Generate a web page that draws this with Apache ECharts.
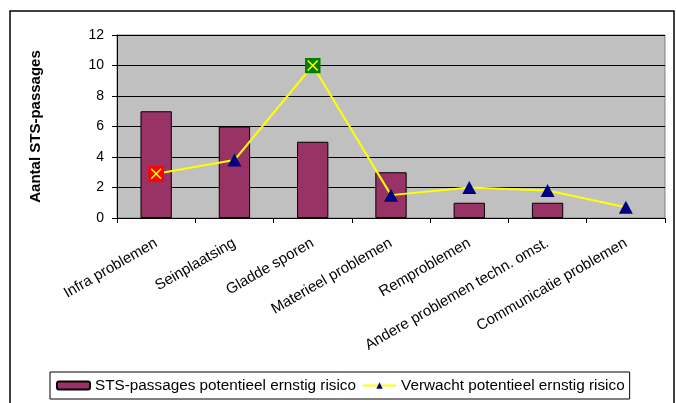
<!DOCTYPE html>
<html>
<head>
<meta charset="utf-8">
<script src="https://cdn.jsdelivr.net/npm/echarts@6/dist/echarts.min.js"></script>
<style>
html, body { margin: 0; padding: 0; background: #fff; }
#container { width: 676px; height: 403px; }
</style>
</head>
<body>
<div id="container"></div>
<script>
var categories = ['Infra problemen', 'Seinplaatsing', 'Gladde sporen', 'Materieel problemen',
    'Remproblemen', 'Andere problemen techn. omst.', 'Communicatie problemen'];
var stsValues = [7, 6, 5, 3, 1, 1, 0];
var expectedValues = [2.9, 3.8, 10, 1.5, 2.0, 1.8, 0.7];
// special markers: index -> fill colour of the crossed square
var crossMarkers = { 0: '#ff0000', 2: '#008000' };

function crossSquare(fill) {
    var svg = "<svg xmlns='http://www.w3.org/2000/svg' width='16' height='16'>" +
        "<rect width='16' height='16' fill='" + fill + "'/>" +
        "<path d='M3 3L13 13M13 3L3 13' stroke='#ffff00' stroke-width='1.6'/></svg>";
    return 'image://data:image/svg+xml;charset=utf-8,' + encodeURIComponent(svg);
}

function lineData() {
    var obj = [];
    for (var i = 0; i < expectedValues.length; i++) {
        if (crossMarkers[i]) {
            obj.push({ value: expectedValues[i], symbol: crossSquare(crossMarkers[i]), symbolSize: 16 });
        } else {
            obj.push(expectedValues[i]);
        }
    }
    return obj;
}

function barData() {
    // a zero bar shows nothing in the original, so drop its outline
    return stsValues.map(function (v) {
        return v === 0 ? { value: v, itemStyle: { borderWidth: 0 } } : v;
    });
}

var dom = document.getElementById('container');
var myChart = echarts.init(dom, null, { renderer: 'canvas' });

var font = 'Liberation Sans, Arial, sans-serif';

var option = {
    animation: false,
    textStyle: { fontFamily: font },
    graphic: [{
        type: 'rect',
        shape: { x: 10, y: 11, width: 664, height: 400 },
        style: { fill: 'none', stroke: '#000', lineWidth: 1.5 },
        silent: true
    }],
    grid: {
        left: 117, right: 11, top: 35, bottom: 185,
        show: true,
        backgroundColor: '#c0c0c0',
        borderColor: '#808080',
        borderWidth: 1
    },
    legend: {
        left: 50, top: 372,
        padding: [6, 5, 6, 6],
        borderColor: '#000',
        borderWidth: 1,
        itemWidth: 33,
        itemHeight: 8,
        itemGap: 6,
        textStyle: { fontSize: 15.3, color: '#000', fontFamily: font },
        data: ['STS-passages potentieel ernstig risico', 'Verwacht potentieel ernstig risico']
    },
    xAxis: {
        type: 'category',
        data: categories,
        boundaryGap: true,
        axisLine: { lineStyle: { color: '#000' } },
        axisTick: { show: true, length: 5, lineStyle: { color: '#000' } },
        axisLabel: { interval: 0, rotate: 30, fontSize: 15, color: '#000', margin: 24 }
    },
    yAxis: {
        type: 'value',
        min: 0, max: 12, interval: 2,
        name: 'Aantal STS-passages',
        nameLocation: 'middle',
        nameGap: 74,
        nameTextStyle: { fontSize: 15, fontWeight: 'bold', color: '#000' },
        axisLine: { show: true, lineStyle: { color: '#000' } },
        axisTick: { show: true, length: 5, lineStyle: { color: '#000' } },
        axisLabel: { fontSize: 14, color: '#000', margin: 13 },
        splitLine: { show: true, lineStyle: { color: '#000', width: 1 } }
    },
    series: [
        {
            name: 'STS-passages potentieel ernstig risico',
            type: 'bar',
            data: barData(),
            barWidth: '40%',
            itemStyle: { color: '#993366', borderColor: '#000', borderWidth: 1 }
        },
        {
            name: 'Verwacht potentieel ernstig risico',
            type: 'line',
            data: lineData(),
            symbol: 'triangle',
            symbolSize: [14, 13],
            color: '#000080',
            itemStyle: { color: '#000080' },
            lineStyle: { color: '#ffff00', width: 2 },
            z: 5
        }
    ]
};

myChart.setOption(option);
</script>
</body>
</html>
